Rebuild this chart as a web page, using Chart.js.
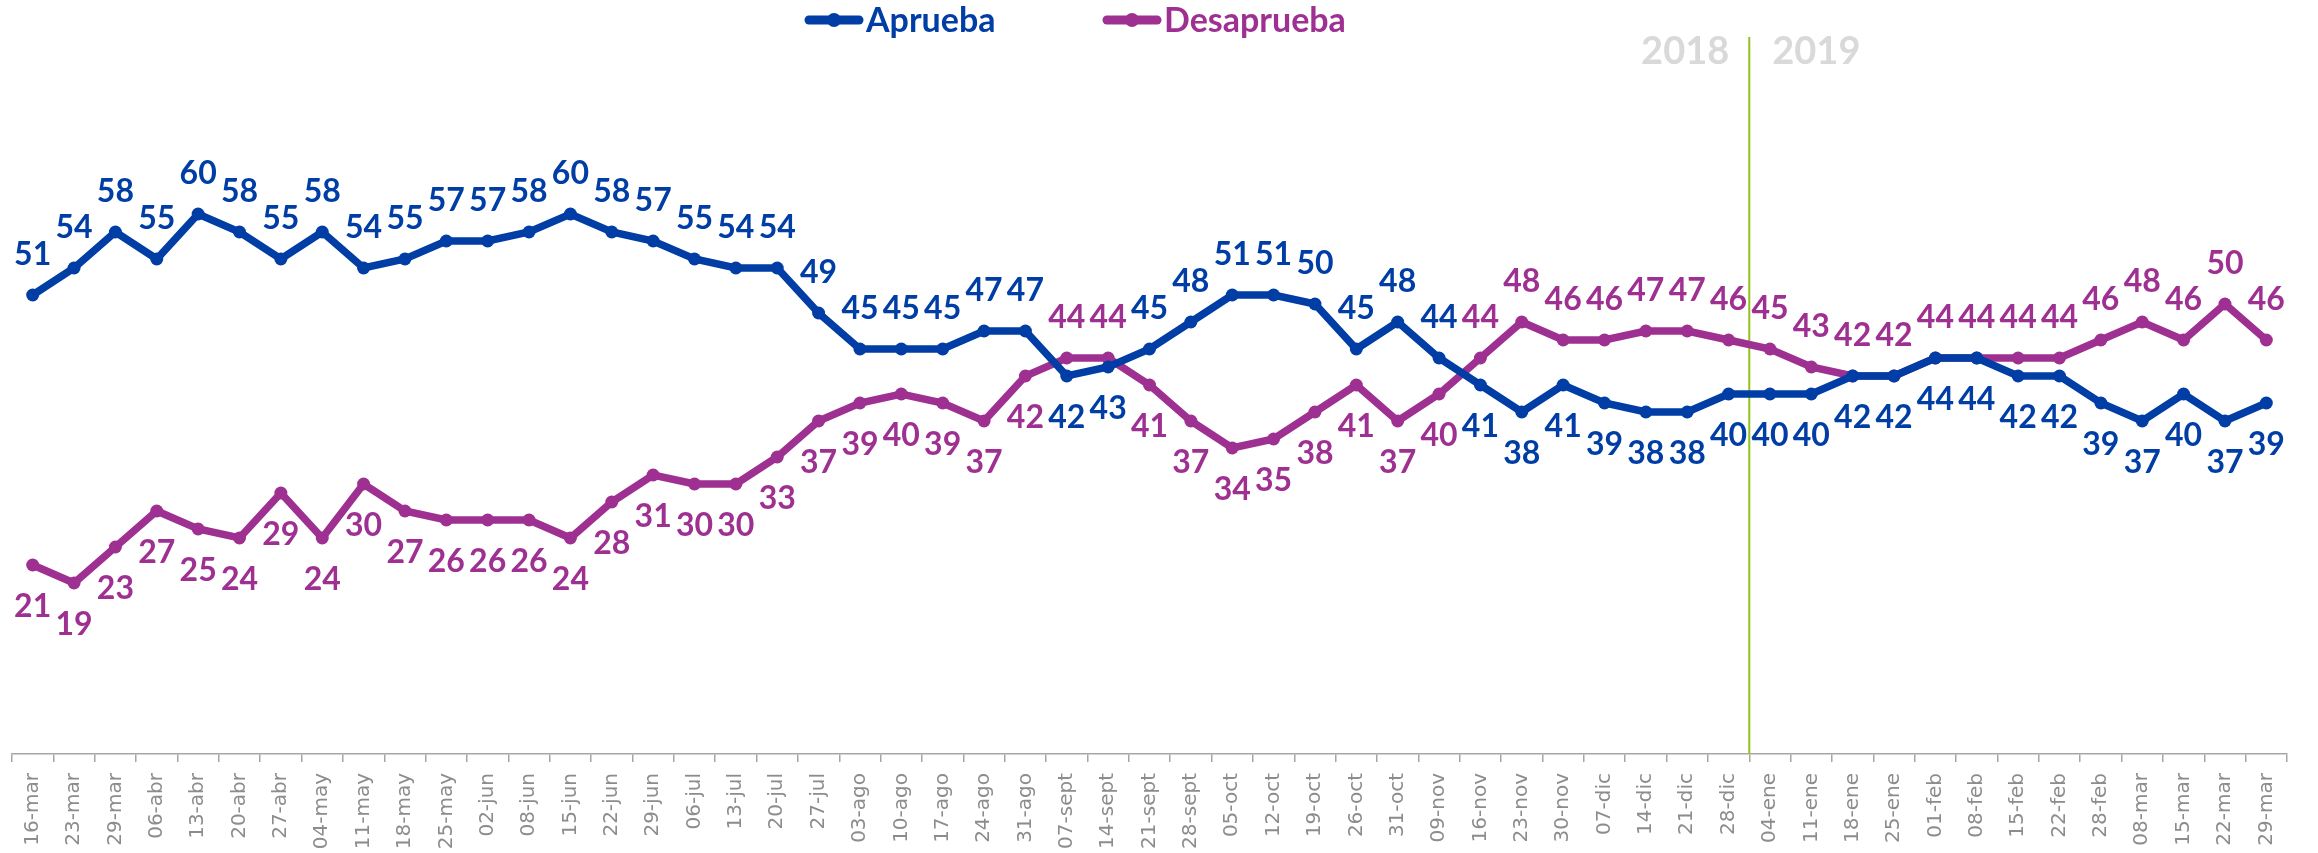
<!DOCTYPE html>
<html>
<head>
<meta charset="utf-8">
<script src="https://cdn.jsdelivr.net/npm/chart.js@4.4.0/dist/chart.umd.min.js"></script>
<style>
  html, body { margin: 0; padding: 0; background: #fff; }
</style>
</head>
<body>
<canvas id="aprobacionChart" width="2318" height="853"></canvas>
<script>
var fechas = ['16-mar', '23-mar', '29-mar', '06-abr', '13-abr', '20-abr', '27-abr', '04-may', '11-may', '18-may',
    '25-may', '02-jun', '08-jun', '15-jun', '22-jun', '29-jun', '06-jul', '13-jul', '20-jul', '27-jul',
    '03-ago', '10-ago', '17-ago', '24-ago', '31-ago', '07-sept', '14-sept', '21-sept', '28-sept', '05-oct',
    '12-oct', '19-oct', '26-oct', '31-oct', '09-nov', '16-nov', '23-nov', '30-nov', '07-dic', '14-dic',
    '21-dic', '28-dic', '04-ene', '11-ene', '18-ene', '25-ene', '01-feb', '08-feb', '15-feb', '22-feb',
    '28-feb', '08-mar', '15-mar', '22-mar', '29-mar'];
var aprueba = [51, 54, 58, 55, 60, 58, 55, 58, 54, 55, 57, 57, 58, 60, 58, 57, 55, 54, 54, 49,
    45, 45, 45, 47, 47, 42, 43, 45, 48, 51, 51, 50, 45, 48, 44, 41, 38, 41, 39, 38,
    38, 40, 40, 40, 42, 42, 44, 44, 42, 42, 39, 37, 40, 37, 39];
var desaprueba = [21, 19, 23, 27, 25, 24, 29, 24, 30, 27, 26, 26, 26, 24, 28, 31, 30, 30, 33, 37,
    39, 40, 39, 37, 42, 44, 44, 41, 37, 34, 35, 38, 41, 37, 40, 44, 48, 46, 46, 47,
    47, 46, 45, 43, 42, 42, 44, 44, 44, 44, 46, 48, 46, 50, 46];
var anios = ['2018', '2019'];
var ultimoDe2018 = '28-dic';

var AZUL = '#003DA5';
var MORADO = '#9E3091';

// etiquetas de valor: encima de la serie que va arriba, debajo de la otra
var etiquetasPlugin = {
    id: 'etiquetas',
    afterDatasetsDraw: function(chart) {
        var ctx = chart.ctx;
        ctx.save();
        ctx.font = 'bold 32px Lato';
        ctx.textAlign = 'center';
        ctx.textBaseline = 'middle';
        chart.data.datasets.forEach(function(ds, i) {
            var otra = chart.data.datasets[1 - i].data;
            chart.getDatasetMeta(i).data.forEach(function(pt, j) {
                var v = ds.data[j];
                var arriba = i === 0 ? v > otra[j] : v >= otra[j];
                ctx.fillStyle = ds.borderColor;
                ctx.fillText(v, pt.x, arriba ? pt.y - 40 : pt.y + 42);
            });
        });
        ctx.restore();
    }
};

// línea que separa 2018 y 2019
var anioPlugin = {
    id: 'anio',
    beforeDatasetsDraw: function(chart) {
        var ctx = chart.ctx;
        var x = chart.scales.x;
        var i = fechas.indexOf(ultimoDe2018);
        var xl = (x.getPixelForValue(i) + x.getPixelForValue(i + 1)) / 2;
        ctx.save();
        ctx.strokeStyle = '#92C01E';
        ctx.lineWidth = 2;
        ctx.beginPath();
        ctx.moveTo(xl, 37);
        ctx.lineTo(xl, chart.chartArea.bottom);
        ctx.stroke();
        ctx.font = 'bold 38px Lato';
        ctx.fillStyle = '#D9D9D9';
        ctx.textBaseline = 'middle';
        ctx.textAlign = 'right';
        ctx.fillText(anios[0], xl - 20, 52);
        ctx.textAlign = 'left';
        ctx.fillText(anios[1], xl + 23, 52);
        ctx.restore();
    }
};

// leyenda con línea y punto
var leyendaPlugin = {
    id: 'leyenda',
    afterDraw: function(chart) {
        var ctx = chart.ctx;
        var inicios = [805, 1103];
        ctx.save();
        chart.data.datasets.forEach(function(ds, i) {
            var x0 = inicios[i];
            ctx.strokeStyle = ds.borderColor;
            ctx.fillStyle = ds.borderColor;
            ctx.lineWidth = 9;
            ctx.lineCap = 'round';
            ctx.beginPath();
            ctx.moveTo(x0 + 4, 20);
            ctx.lineTo(x0 + 54, 20);
            ctx.stroke();
            ctx.beginPath();
            ctx.arc(x0 + 29, 20, 7, 0, Math.PI * 2);
            ctx.fill();
            ctx.font = 'bold 34px Lato';
            ctx.textBaseline = 'alphabetic';
            ctx.textAlign = 'left';
            ctx.fillText(ds.label, x0 + 61, 32);
        });
        ctx.restore();
    }
};

var ctx = document.getElementById('aprobacionChart').getContext('2d');
var myChart = new Chart(ctx, {
    type: 'line',
    data: {
        labels: fechas,
        datasets: [{
            label: 'Aprueba',
            data: aprueba,
            borderColor: AZUL,
            backgroundColor: AZUL,
            borderWidth: 7.5,
            pointRadius: 6.5,
            pointBorderWidth: 0,
            pointBackgroundColor: AZUL,
            tension: 0
        }, {
            label: 'Desaprueba',
            data: desaprueba,
            borderColor: MORADO,
            backgroundColor: MORADO,
            borderWidth: 7.5,
            pointRadius: 6.5,
            pointBorderWidth: 0,
            pointBackgroundColor: MORADO,
            tension: 0
        }]
    },
    options: {
        responsive: false,
        animation: false,
        devicePixelRatio: 1,
        layout: { padding: { top: 34, left: 12, right: 31, bottom: 0 } },
        plugins: {
            legend: { display: false },
            tooltip: { enabled: false }
        },
        scales: {
            x: {
                offset: true,
                grid: {
                    offset: true,
                    drawOnChartArea: false,
                    drawTicks: true,
                    tickLength: 8,
                    color: '#A6A6A6',
                    lineWidth: 1.5
                },
                border: { display: true, color: '#A6A6A6', width: 1.5 },
                ticks: {
                    autoSkip: false,
                    maxRotation: 90,
                    minRotation: 90,
                    padding: 11,
                    color: '#8C8C8C',
                    font: { family: 'DejaVu Sans', size: 20 }
                },
                afterFit: function(scale) { scale.height = 99; }
            },
            y: {
                display: false,
                min: 0,
                max: 80
            }
        }
    },
    plugins: [anioPlugin, etiquetasPlugin, leyendaPlugin]
});
</script>
</body>
</html>
